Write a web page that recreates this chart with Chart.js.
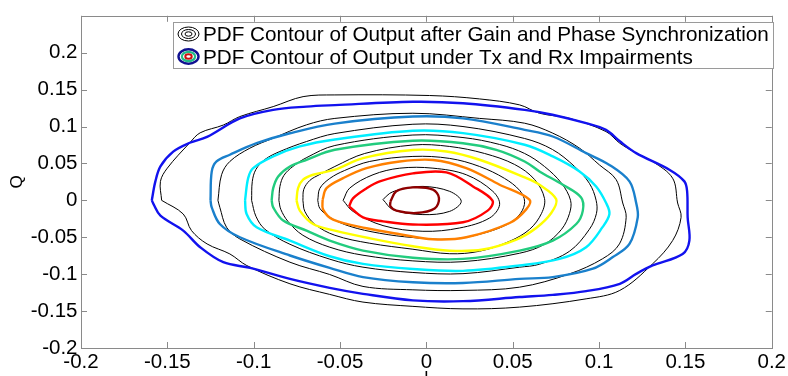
<!DOCTYPE html>
<html>
<head>
<meta charset="utf-8">
<title>PDF Contour</title>
<script src="https://cdn.jsdelivr.net/npm/chart.js@4.4.1/dist/chart.umd.min.js"></script>
<style>
  html, body { margin: 0; padding: 0; background: #fff; }
  #grafico { display: block; }
</style>
</head>
<body>
<canvas id="grafico" width="788" height="376"></canvas>
<script>
const ticksI = [-0.2, -0.15, -0.1, -0.05, 0, 0.05, 0.1, 0.15, 0.2];
const ticksQ = [-0.2, -0.15, -0.1, -0.05, 0, 0.05, 0.1, 0.15, 0.2];

const legendaTextos = [
    'PDF Contour of Output after Gain and Phase Synchronization',
    'PDF Contour of Output under Tx and Rx Impairments'
];

// Contornos sob imperfeições Tx e Rx (de fora para dentro), pares [I, Q]
const azul = [[-0.159,0],[-0.157,0.025],[-0.154,0.046],[-0.1466,0.066],[-0.137,0.078],[-0.127,0.086],[-0.108,0.111],[-0.0887,0.1226],[-0.0694,0.127],[-0.053,0.129],[-0.0078,0.1335],[0.0212,0.1315],[0.0569,0.1226],[0.073,0.116],[0.0925,0.1045],[0.104,0.0955],[0.112,0.08],[0.1215,0.064],[0.1407,0.0415],[0.1494,0.0257],[0.151,0.012],[0.1513,-0.023],[0.1523,-0.0545],[0.1484,-0.0726],[0.131,-0.0882],[0.1215,-0.0996],[0.112,-0.113],[0.0925,-0.123],[0.0732,-0.128],[0.054,-0.131],[0.0212,-0.1365],[-0.0078,-0.1355],[-0.0367,-0.1266],[-0.056,-0.1185],[-0.079,-0.1064],[-0.102,-0.0915],[-0.1176,-0.0838],[-0.131,-0.0635],[-0.1408,-0.041],[-0.154,-0.0207],[-0.158,-0.005]];
const azulAco = [[-0.125,0],[-0.1243,0.039],[-0.1215,0.0527],[-0.1138,0.0618],[-0.0983,0.0774],[-0.079,0.0909],[-0.053,0.104],[-0.0078,0.1135],[0.0212,0.111],[0.0569,0.0955],[0.0732,0.0865],[0.0925,0.064],[0.106,0.048],[0.1176,0.0257],[0.1215,-0.0036],[0.1224,-0.023],[0.1176,-0.059],[0.108,-0.0768],[0.0964,-0.0926],[0.0732,-0.104],[0.054,-0.1064],[0.0212,-0.112],[-0.0078,-0.111],[-0.0367,-0.104],[-0.056,-0.0915],[-0.079,-0.0747],[-0.108,-0.05],[-0.1196,-0.032],[-0.1243,-0.0095]];
const ciano = [[-0.105,0],[-0.1032,0.0301],[-0.1003,0.0436],[-0.0887,0.0595],[-0.0733,0.073],[-0.053,0.0824],[-0.0078,0.0942],[0.0212,0.091],[0.0569,0.0753],[0.0732,0.0595],[0.0887,0.0392],[0.0983,0.0189],[0.1041,-0.0036],[0.106,-0.0185],[0.1021,-0.036],[0.0925,-0.0635],[0.0771,-0.0793],[0.054,-0.0882],[0.0212,-0.0955],[-0.0078,-0.093],[-0.0367,-0.0861],[-0.056,-0.0757],[-0.079,-0.0545],[-0.0983,-0.0365],[-0.1041,-0.0185]];
const verde = [[-0.0896,0],[-0.0887,0.0166],[-0.0858,0.0324],[-0.079,0.0459],[-0.0694,0.055],[-0.053,0.0685],[-0.0078,0.0807],[0.0212,0.0774],[0.0405,0.0685],[0.0569,0.0527],[0.0655,0.0392],[0.079,0.0212],[0.0896,0.004],[0.0906,-0.0139],[0.0868,-0.032],[0.0732,-0.0545],[0.054,-0.068],[0.0212,-0.0793],[-0.0078,-0.0777],[-0.0367,-0.068],[-0.056,-0.0545],[-0.0694,-0.041],[-0.0829,-0.0274],[-0.0887,-0.0095]];
const amarelo = [[-0.0752,0],[-0.0743,0.0166],[-0.0714,0.028],[-0.0656,0.0347],[-0.053,0.0415],[-0.0367,0.0572],[-0.0078,0.0682],[0.0116,0.0662],[0.0308,0.055],[0.0569,0.0311],[0.0655,0.0212],[0.0752,0.0014],[0.0723,-0.0172],[0.0636,-0.0374],[0.0521,-0.0531],[0.0327,-0.0666],[0.0135,-0.0682],[-0.0078,-0.0622],[-0.0328,-0.0514],[-0.053,-0.041],[-0.0656,-0.032],[-0.0733,-0.0139]];
const laranja = [[-0.0601,0.001],[-0.0578,0.0166],[-0.0482,0.0301],[-0.0347,0.0436],[-0.0154,0.0527],[0.0038,0.0547],[0.0231,0.0436],[0.0424,0.0212],[0.0597,0.001],[0.0578,-0.0122],[0.0482,-0.0307],[0.0231,-0.05],[0.0038,-0.0527],[-0.0154,-0.0459],[-0.0347,-0.0378],[-0.054,-0.0261],[-0.0598,-0.0126]];
const vermelho = [[-0.0447,-0.0081],[-0.0425,0.0027],[-0.0347,0.0162],[-0.027,0.0257],[-0.0078,0.0365],[0.0116,0.0378],[0.027,0.0189],[0.0383,-0.0004],[0.0355,-0.0139],[0.0212,-0.0297],[-0.0078,-0.0328],[-0.0251,-0.0284],[-0.0367,-0.023]];
const vinho = [[-0.0208,-0.0014],[-0.0174,0.0122],[-0.0078,0.0176],[0.0038,0.0145],[0.0073,0.0031],[0.0048,-0.0112],[-0.0058,-0.0172],[-0.0174,-0.0139],[-0.0208,-0.0081]];

const contornosImpar = [azul, azulAco, ciano, verde, amarelo, laranja, vermelho, vinho];
const coresImpar = ['#1212ee', '#1a80cc', '#00eeff', '#22cc7e', '#ffff00', '#ff8000', '#ff0000', '#8f0000'];

// Contornos após sincronização de ganho e fase
const preto1 = [[-0.1533,0],[-0.154,0.0257],[-0.15,0.0437],[-0.137,0.078],[-0.131,0.0915],[-0.1176,0.102],[-0.108,0.1135],[-0.0887,0.127],[-0.0714,0.1405],[-0.053,0.1428],[0.0019,0.142],[0.0308,0.1374],[0.054,0.1293],[0.0655,0.118],[0.083,0.111],[0.104,0.0932],[0.112,0.0774],[0.1215,0.064],[0.131,0.0527],[0.1426,0.03],[0.1455,-0.0036],[0.1475,-0.023],[0.1426,-0.0545],[0.131,-0.086],[0.112,-0.122],[0.0925,-0.1334],[0.054,-0.1446],[0.0212,-0.147],[-0.0078,-0.1436],[-0.0367,-0.1378],[-0.056,-0.1274],[-0.079,-0.113],[-0.104,-0.0883],[-0.1138,-0.0726],[-0.127,-0.059],[-0.136,-0.041],[-0.1408,-0.0185]];
const preto2 = [[-0.1207,0],[-0.1186,0.0347],[-0.1138,0.0527],[-0.1022,0.0707],[-0.0887,0.0842],[-0.0694,0.1023],[-0.053,0.111],[-0.0078,0.118],[0.0308,0.111],[0.0569,0.1045],[0.0732,0.091],[0.0887,0.0707],[0.1002,0.048],[0.1099,0.028],[0.1137,-0.0036],[0.1157,-0.023],[0.1118,-0.059],[0.1021,-0.079],[0.0829,-0.0996],[0.054,-0.1176],[0.0212,-0.122],[-0.0078,-0.1212],[-0.0367,-0.1166],[-0.056,-0.1004],[-0.079,-0.0838],[-0.108,-0.0523],[-0.1157,-0.0365],[-0.1196,-0.0095]];
const preto3 = [[-0.1012,0],[-0.1008,0.0257],[-0.0987,0.0419],[-0.0935,0.0554],[-0.0848,0.0662],[-0.0694,0.0797],[-0.053,0.0905],[-0.0078,0.1031],[0.0212,0.1],[0.0569,0.0838],[0.073,0.0689],[0.0858,0.0459],[0.0944,0.023],[0.0983,0],[0.0985,-0.0176],[0.0944,-0.0392],[0.0829,-0.0689],[0.0655,-0.0865],[0.054,-0.0905],[0.0212,-0.0993],[-0.0078,-0.0977],[-0.0367,-0.0905],[-0.0559,-0.0797],[-0.079,-0.0595],[-0.0935,-0.0392],[-0.0987,-0.0216]];
const preto4 = [[-0.0854,0],[-0.0848,0.0189],[-0.0825,0.0338],[-0.0773,0.0459],[-0.0692,0.0581],[-0.053,0.0743],[-0.0078,0.0885],[0.0212,0.0851],[0.0424,0.0757],[0.0569,0.0635],[0.0684,0.0459],[0.0783,0.023],[0.0835,0],[0.0829,-0.0176],[0.0783,-0.0392],[0.0684,-0.0595],[0.054,-0.0716],[0.0212,-0.0831],[-0.0078,-0.082],[-0.0367,-0.0743],[-0.0559,-0.0635],[-0.0715,-0.0473],[-0.0802,-0.0284],[-0.0843,-0.0122]];
const preto5 = [[-0.0715,0],[-0.071,0.0149],[-0.0675,0.027],[-0.0617,0.0351],[-0.053,0.0459],[-0.0357,0.0635],[-0.0078,0.075],[0.0135,0.073],[0.0337,0.0635],[0.0511,0.0486],[0.0626,0.0284],[0.0684,0.0027],[0.0667,-0.0176],[0.0598,-0.0392],[0.0482,-0.0554],[0.0308,-0.0689],[0.0135,-0.0723],[-0.0078,-0.0662],[-0.0328,-0.0581],[-0.053,-0.0473],[-0.0646,-0.0324],[-0.0704,-0.0149]];
const preto6 = [[-0.0629,0],[-0.0617,0.0162],[-0.0559,0.0297],[-0.0473,0.0405],[-0.0328,0.0527],[-0.0078,0.0595],[0.0135,0.0568],[0.0308,0.0459],[0.0453,0.0297],[0.054,0.0135],[0.0569,-0.0014],[0.0545,-0.0176],[0.047,-0.0324],[0.0308,-0.0459],[0.0135,-0.0527],[-0.0078,-0.0504],[-0.027,-0.0446],[-0.0444,-0.0351],[-0.0559,-0.023],[-0.0617,-0.0108]];
const preto7 = [[-0.0482,0],[-0.0444,0.0166],[-0.0309,0.0347],[-0.0154,0.0436],[0.0038,0.0436],[0.0231,0.0347],[0.0385,0.0122],[0.0424,-0.0058],[0.0366,-0.0239],[0.0193,-0.0374],[-0.002,-0.0419],[-0.0251,-0.0342],[-0.0425,-0.0149]];
const preto8 = [[-0.0251,0.001],[-0.0212,0.0095],[-0.0154,0.0145],[-0.002,0.0189],[0.0135,0.0122],[0.0202,-0.0014],[0.0135,-0.0149],[-0.002,-0.0193],[-0.0193,-0.0126]];

const contornosSinc = [preto1, preto2, preto3, preto4, preto5, preto6, preto7, preto8];

const fonte = '"Liberation Sans", Arial, Helvetica, sans-serif';

function fechar(pontos) {
    const pts = pontos.map(p => ({ x: p[0], y: p[1] }));
    pts.push({ x: pontos[0][0], y: pontos[0][1] });
    return pts;
}

function formatar(v) {
    return String(Math.round(v * 100) / 100);
}

const datasets = [];
// coloridos primeiro para ficarem por cima das linhas pretas
contornosImpar.forEach((c, i) => {
    datasets.push({
        label: legendaTextos[1],
        data: fechar(c),
        borderColor: coresImpar[i],
        borderWidth: 2.4,
        showLine: true,
        pointRadius: 0,
        tension: 0.35,
        fill: false
    });
});
contornosSinc.forEach(c => {
    datasets.push({
        label: legendaTextos[0],
        data: fechar(c),
        borderColor: '#000000',
        borderWidth: 1,
        showLine: true,
        pointRadius: 0,
        tension: 0.35,
        fill: false
    });
});

function desenharIcone(ctx, cx, cy, aneis) {
    aneis.forEach(a => {
        ctx.beginPath();
        ctx.strokeStyle = a.cor;
        ctx.lineWidth = a.largura;
        ctx.ellipse(cx, cy, a.rx, a.ry, 0, 0, Math.PI * 2);
        ctx.stroke();
    });
}

// caixa dos eixos com ticks para dentro e a legenda no estilo MATLAB
const moldura = {
    id: 'moldura',
    afterDraw(chart) {
        const ctx = chart.ctx;
        const a = chart.chartArea;
        const sx = chart.scales.x;
        const sy = chart.scales.y;
        ctx.save();
        ctx.strokeStyle = '#8a8a8a';
        ctx.lineWidth = 1;
        ctx.beginPath();
        ticksI.forEach(v => {
            const px = Math.round(sx.getPixelForValue(v)) + 0.5;
            ctx.moveTo(px, a.bottom);
            ctx.lineTo(px, a.bottom - 6);
            ctx.moveTo(px, a.top);
            ctx.lineTo(px, a.top + 6);
        });
        ticksQ.forEach(v => {
            const py = Math.round(sy.getPixelForValue(v)) + 0.5;
            ctx.moveTo(a.left, py);
            ctx.lineTo(a.left + 6, py);
            ctx.moveTo(a.right, py);
            ctx.lineTo(a.right - 6, py);
        });
        ctx.stroke();
        ctx.strokeRect(Math.round(a.left) + 0.5, Math.round(a.top) + 0.5,
            Math.round(a.right - a.left), Math.round(a.bottom - a.top));

        // legenda
        ctx.fillStyle = '#ffffff';
        ctx.fillRect(173.5, 22.5, 600, 46);
        ctx.strokeStyle = '#9a9a9a';
        ctx.strokeRect(173.5, 22.5, 600, 46);

        desenharIcone(ctx, 188.5, 34, [
            { cor: '#000', largura: 1, rx: 10.5, ry: 7 },
            { cor: '#000', largura: 1, rx: 7, ry: 4.5 },
            { cor: '#000', largura: 1, rx: 3.5, ry: 2.2 }
        ]);
        desenharIcone(ctx, 188.5, 56.5, [
            { cor: '#101090', largura: 2.4, rx: 10, ry: 7.2 },
            { cor: '#22bb88', largura: 2.2, rx: 6.6, ry: 4.6 },
            { cor: '#cc1010', largura: 2, rx: 3.2, ry: 2.2 }
        ]);

        ctx.fillStyle = '#000';
        ctx.font = '20.7px ' + fonte;
        ctx.textAlign = 'left';
        ctx.textBaseline = 'alphabetic';
        ctx.fillText(legendaTextos[0], 203, 41);
        ctx.fillText(legendaTextos[1], 203, 63.5);
        ctx.restore();
    }
};

new Chart(document.getElementById('grafico'), {
    type: 'scatter',
    data: { datasets: datasets },
    options: {
        responsive: false,
        animation: false,
        devicePixelRatio: 1,
        layout: { padding: { top: 14, right: 15, bottom: 0, left: 0 } },
        plugins: {
            legend: { display: false },
            tooltip: { enabled: false }
        },
        scales: {
            x: {
                type: 'linear',
                min: -0.2,
                max: 0.2,
                afterBuildTicks: s => { s.ticks = ticksI.map(v => ({ value: v })); },
                afterFit: s => { s.height = 28; },
                ticks: {
                    color: '#000',
                    font: { family: fonte, size: 20.5 },
                    padding: 2,
                    autoSkip: false,
                    maxRotation: 0,
                    callback: v => formatar(v)
                },
                grid: { display: false, drawTicks: false },
                border: { display: false },
                title: {
                    display: true,
                    text: 'I',
                    color: '#000',
                    font: { family: fonte, size: 17 },
                    padding: { top: 0, bottom: -13 }
                }
            },
            y: {
                type: 'linear',
                min: -0.2,
                max: 0.25,
                afterBuildTicks: s => { s.ticks = ticksQ.map(v => ({ value: v })); },
                afterFit: s => { s.width = 81; },
                ticks: {
                    color: '#000',
                    font: { family: fonte, size: 20.5 },
                    padding: 3.5,
                    autoSkip: false,
                    callback: v => formatar(v)
                },
                grid: { display: false, drawTicks: false },
                border: { display: false },
                title: {
                    display: true,
                    text: 'Q',
                    color: '#000',
                    font: { family: fonte, size: 17 },
                    padding: { top: 7, bottom: 0 }
                }
            }
        }
    },
    plugins: [moldura]
});
</script>
</body>
</html>
